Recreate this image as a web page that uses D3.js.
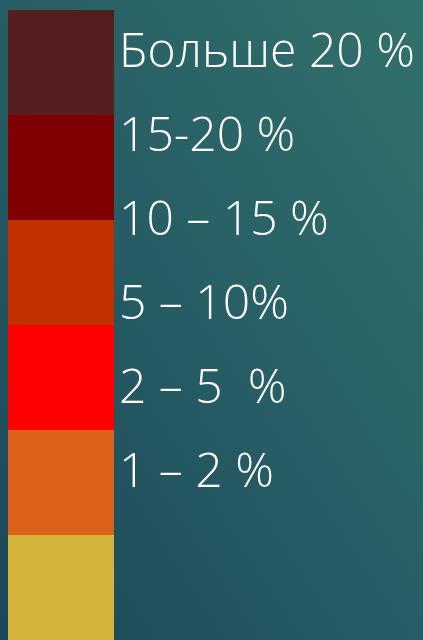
<!DOCTYPE html>
<html><head><meta charset="utf-8">
<script src="https://cdn.jsdelivr.net/npm/d3@7"></script>
<style>html,body{margin:0;padding:0;overflow:hidden;background:#265d65}</style>
</head><body>
<svg id="c" width="423" height="640"></svg>
<script>
const categories = ["Больше 20 %", "15-20 %", "10 – 15 %", "5 – 10%", "2 – 5  %", "1 – 2 %", ""];
const colors = ["#561f1f", "#7f0000", "#c03000", "#ff0000", "#de6119", "#d4b43a", "#d4b43a"];
const labels = categories.slice(0, 6);

const W = 423, H = 640;
const svg = d3.select("#c");
const defs = svg.append("defs");
const g = defs.append("linearGradient").attr("id","bg").attr("x1","0").attr("y1","1").attr("x2","1").attr("y2","0");
g.append("stop").attr("offset","0").attr("stop-color","#1b4858");
g.append("stop").attr("offset","0.5").attr("stop-color","#275e65");
g.append("stop").attr("offset","1").attr("stop-color","#32716b");
svg.append("rect").attr("width",W).attr("height",H).attr("fill","url(#bg)");

const y = d3.scaleBand().domain(d3.range(categories.length)).range([10, 10 + 105*categories.length]).padding(0);
svg.selectAll("rect.box").data(categories).join("rect")
  .attr("class","box")
  .attr("x", 8).attr("width", 106)
  .attr("y", (d,i) => y(i)).attr("height", y.bandwidth())
  .attr("fill", (d,i) => colors[i]);

const ly = d3.scalePoint().domain(d3.range(labels.length)).range([67, 487]);
const txt = svg.selectAll("text.lab").data(labels).join("text")
  .attr("class","lab")
  .attr("x", 119).attr("y", (d,i) => ly(i))
  .attr("fill", "#ffffff")
  .style("font-family", "'Open Sans', Lato, 'DejaVu Sans', sans-serif")
  .style("font-weight", 300)
  .style("font-size", "44px")
  .style("white-space", "pre")
  .attr("xml:space","preserve")
  .text(d => d);
const w0 = txt.node().getComputedTextLength();
const fs = 44 * 296 / w0;
txt.style("font-size", fs + "px");
</script>
</body></html>
